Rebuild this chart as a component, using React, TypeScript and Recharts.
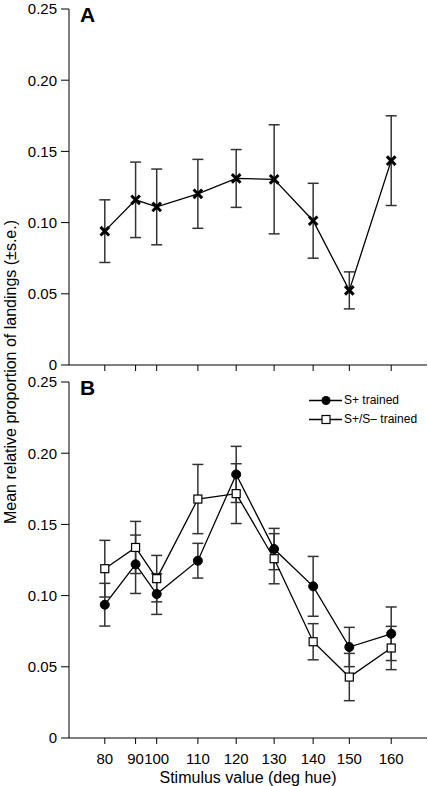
import React from 'react'
import { ComposedChart, Line, XAxis, YAxis, ErrorBar, Legend, Label } from 'recharts'

// stimulus hue positions (measured) and their nominal labels
const hues = [80, 88.6, 94.5, 106, 116.7, 127.3, 138.2, 148.3, 160]
const hueLabels = ['80', '90', '100', '110', '120', '130', '140', '150', '160']
const yTicks = [0, 0.05, 0.1, 0.15, 0.2, 0.25]

// panel A
const meanA = [0.094, 0.116, 0.111, 0.1202, 0.131, 0.1304, 0.1013, 0.0524, 0.1435]
const seA = [0.022, 0.0265, 0.0266, 0.0242, 0.0203, 0.0383, 0.0263, 0.013, 0.0315]

// panel B
const meanSPlus = [0.0936, 0.122, 0.1011, 0.1245, 0.1851, 0.1327, 0.1065, 0.0639, 0.0732]
const seSPlus = [0.015, 0.0205, 0.0143, 0.0122, 0.0197, 0.0145, 0.021, 0.0138, 0.0188]
const meanSPlusMinus = [0.1189, 0.1338, 0.1119, 0.1678, 0.1716, 0.1259, 0.0676, 0.0428, 0.0632]
const seSPlusMinus = [0.0199, 0.0183, 0.0163, 0.0243, 0.021, 0.0176, 0.0127, 0.0166, 0.0152]

const dataA = hues.map((h, i) => ({ hue: h, mean: meanA[i], se: seA[i] }))
const dataB = hues.map((h, i) => ({
    hue: h,
    sPlus: meanSPlus[i],
    sPlusSe: seSPlus[i],
    sPlusMinus: meanSPlusMinus[i],
    sPlusMinusSe: seSPlusMinus[i]
}))

const FONT = '"Liberation Sans", Arial, Helvetica, sans-serif'
const tickStyle = { fill: '#000', fontSize: 15 }

const fmtY = (v: number) => (v === 0 ? '0' : v.toFixed(2))
const fmtX = (v: number) => {
    const i = hues.indexOf(v)
    return i >= 0 ? hueLabels[i] : ''
}

const CrossDot = (props: any) => {
    const { cx, cy } = props
    if (cx == null || cy == null) return null
    const s = 4.3
    return (
        <path
            d={`M${cx - s},${cy - s}L${cx + s},${cy + s}M${cx - s},${cy + s}L${cx + s},${cy - s}`}
            stroke="#000"
            strokeWidth={3}
        />
    )
}

const SquareDot = (props: any) => {
    const { cx, cy } = props
    if (cx == null || cy == null) return null
    return <rect x={cx - 4} y={cy - 4} width={8} height={8} fill="#fff" stroke="#000" strokeWidth={1.2} />
}

const renderLegend = (props: any) => {
    const { payload = [] } = props
    return (
        <div style={{ fontFamily: FONT, fontSize: 12, color: '#000' }}>
            {payload.map((entry: any, i: number) => (
                <div key={i} style={{ display: 'flex', alignItems: 'center', height: 19 }}>
                    <svg width={35} height={19}>
                        <line x1={0} y1={9.5} x2={33} y2={9.5} stroke="#000" strokeWidth={1.3} />
                        {entry.dataKey === 'sPlus'
                            ? <circle cx={17} cy={9.5} r={4.5} fill="#000" />
                            : <rect x={13} y={5.5} width={8} height={8} fill="#fff" stroke="#000" strokeWidth={1.2} />}
                    </svg>
                    <span>{entry.value}</span>
                </div>
            ))}
        </div>
    )
}

const Letter = ({ text, top }: { text: string; top: number }) => (
    <div style={{
        position: 'absolute', left: 80, top, fontFamily: FONT, fontWeight: 'bold',
        fontSize: 21, lineHeight: '21px', color: '#000'
    }}>
        {text}
    </div>
)

export default function App() {
    return (
        <div style={{ position: 'absolute', left: 0, top: 0, width: 428, height: 786, background: '#fff', fontFamily: FONT }}>
            <div style={{ position: 'absolute', left: 0, top: 0 }}>
                <ComposedChart width={428} height={380} data={dataA} margin={{ top: 9, right: 1, bottom: 0, left: 0 }}>
                    <XAxis
                        dataKey="hue"
                        type="number"
                        domain={[70, 170]}
                        ticks={hues}
                        tickFormatter={() => ''}
                        height={15}
                        tickSize={6}
                        stroke="#000"
                        tick={tickStyle}
                    />
                    <YAxis
                        type="number"
                        domain={[0, 0.25]}
                        ticks={yTicks}
                        tickFormatter={fmtY}
                        width={69}
                        tickSize={8}
                        tickMargin={4}
                        stroke="#000"
                        tick={tickStyle}
                    />
                    <Line
                        dataKey="mean"
                        stroke="#000"
                        strokeWidth={1.3}
                        dot={<CrossDot />}
                        isAnimationActive={false}
                    >
                        <ErrorBar dataKey="se" width={5.5} stroke="#333" strokeWidth={1.5} direction="y" />
                    </Line>
                </ComposedChart>
            </div>

            <div style={{ position: 'absolute', left: 0, top: 370 }}>
                <ComposedChart width={428} height={416} data={dataB} margin={{ top: 12, right: 1, bottom: 0, left: 0 }}>
                    <XAxis
                        dataKey="hue"
                        type="number"
                        domain={[70, 170]}
                        ticks={hues}
                        tickFormatter={fmtX}
                        height={48}
                        tickSize={6}
                        tickMargin={9}
                        interval={0}
                        stroke="#000"
                        tick={tickStyle}
                    >
                        <Label value="Stimulus value (deg hue)" position="insideBottom" offset={3} fill="#000" fontSize={16} />
                    </XAxis>
                    <YAxis
                        type="number"
                        domain={[0, 0.25]}
                        ticks={yTicks}
                        tickFormatter={fmtY}
                        width={69}
                        tickSize={8}
                        tickMargin={4}
                        stroke="#000"
                        tick={tickStyle}
                    />
                    <Legend
                        layout="vertical"
                        align="center"
                        verticalAlign="middle"
                        content={renderLegend}
                        wrapperStyle={{ left: 309, top: 20.5, width: 'auto', height: 'auto' }}
                    />
                    <Line
                        name="S+ trained"
                        dataKey="sPlus"
                        stroke="#000"
                        strokeWidth={1.3}
                        dot={{ r: 4.5, fill: '#000', stroke: '#000', strokeWidth: 1 }}
                        isAnimationActive={false}
                    >
                        <ErrorBar dataKey="sPlusSe" width={5.5} stroke="#333" strokeWidth={1.5} direction="y" />
                    </Line>
                    <Line
                        name="S+/S– trained"
                        dataKey="sPlusMinus"
                        stroke="#000"
                        strokeWidth={1.3}
                        dot={<SquareDot />}
                        isAnimationActive={false}
                    >
                        <ErrorBar dataKey="sPlusMinusSe" width={5.5} stroke="#333" strokeWidth={1.5} direction="y" />
                    </Line>
                </ComposedChart>
            </div>

            <Letter text="A" top={4} />
            <Letter text="B" top={377} />

            <div style={{
                position: 'absolute', left: 10.5 - 170, top: 372 - 10, width: 340, height: 20,
                lineHeight: '20px', textAlign: 'center', fontSize: 16, color: '#000',
                transform: 'rotate(-90deg)', transformOrigin: '50% 50%', whiteSpace: 'nowrap'
            }}>
                Mean relative proportion of landings (±s.e.)
            </div>
        </div>
    )
}
